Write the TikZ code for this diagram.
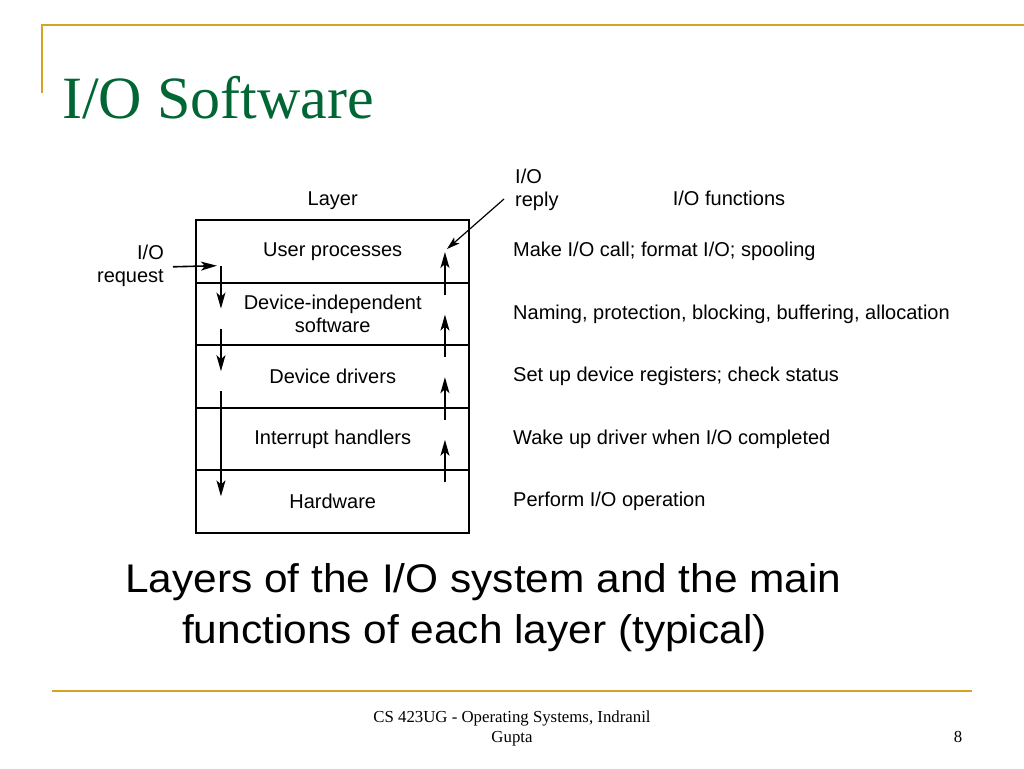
\documentclass[tikz,border=0pt]{standalone}
\usepackage{fontspec}
\setmainfont{Liberation Serif}
\setsansfont{Liberation Sans}
\newfontfamily\captionfont[FakeStretch=1.06]{Liberation Sans}
\usepackage{xcolor}
\usetikzlibrary{arrows.meta, calc}
\definecolor{slidegold}{RGB}{214,163,38}
\definecolor{titlegreen}{RGB}{0,102,51}

\begin{document}
\begin{tikzpicture}[
    x=1pt, y=-1pt,
    % Styles
    layerbox/.style={rectangle, draw=black, line width=2pt, minimum width=272.5pt, minimum height=62.6pt, inner sep=0pt, align=center, font=\sffamily\fontsize{20}{23}\selectfont},
    plaintext/.style={inner sep=0pt, font=\sffamily\fontsize{20}{23}\selectfont},
    functext/.style={anchor=west, inner sep=0pt, font=\sffamily\fontsize{20}{23}\selectfont},
    captiontext/.style={anchor=base west, inner sep=0pt, font=\captionfont\fontsize{40}{48}\selectfont},
    footertext/.style={anchor=base, inner sep=0pt, font=\fontsize{16.8}{20}\selectfont},
    arrow/.style={-{Stealth[length=16pt, width=9pt, inset=4pt]}, line width=1.6pt, color=black},
    goldline/.style={draw=slidegold, line width=2.5pt}
]
\useasboundingbox (0,0) rectangle (1024,768);

% Slide frame
\draw[goldline] (42,93) -- (42,25) -- (1024,25);
\draw[goldline] (52,691) -- (972,691);

% Title
\node[anchor=base west, inner sep=0pt, text=titlegreen, font=\fontsize{60}{72}\selectfont] (title) at (62,118) {I/O Software};

% Column headings
\node[plaintext, anchor=base] (layerhead) at (332.7,205) {Layer};
\node[plaintext, anchor=base] (funchead) at (729,205) {I/O functions};
\node[plaintext, anchor=west, align=left] (reply) at (515,189.5) {I/O\\reply};
\node[plaintext, anchor=east, align=right] (request) at (164,265.8) {I/O\\request};

% Layers
\node[layerbox] (user) at (332.7,251.3) {User processes};
\node[layerbox] (devind) at (332.7,313.9) {Device-independent\\software};
\node[layerbox] (drivers) at (332.7,376.5) {Device drivers};
\node[layerbox] (interrupt) at (332.7,439.1) {Interrupt handlers};
\node[layerbox] (hardware) at (332.7,501.7) {Hardware};

% Functions of each layer
\node[functext] (funcuser) at (513,251.3) {Make I/O call; format I/O; spooling};
\node[functext] (funcdevind) at (513,313.9) {Naming, protection, blocking, buffering, allocation};
\node[functext] (funcdrivers) at (513,376.5) {Set up device registers; check status};
\node[functext] (funcinterrupt) at (513,439.1) {Wake up driver when I/O completed};
\node[functext] (funchardware) at (513,501.7) {Perform I/O operation};

% Request going down
\draw[arrow] ($(request.east)+(9,1)$) -- ($(user.north west)+(21.5,46.7)$);
\draw[arrow] ($(user.north west)+(25.5,47)$) -- ($(devind.north west)+(25.5,27)$);
\draw[arrow] ($(devind.north west)+(25.5,47)$) -- ($(drivers.north west)+(25.5,27)$);
\draw[arrow] ($(drivers.north west)+(25.5,47)$) -- ($(hardware.north west)+(25.5,27)$);

% Reply going up
\draw[arrow] ($(devind.north east)+(-25,13)$) -- ($(user.north east)+(-25,33)$);
\draw[arrow] ($(drivers.north east)+(-25,13)$) -- ($(devind.north east)+(-25,33)$);
\draw[arrow] ($(interrupt.north east)+(-25,13)$) -- ($(drivers.north east)+(-25,33)$);
\draw[arrow] ($(hardware.north east)+(-25,13)$) -- ($(interrupt.north east)+(-25,33)$);
\coordinate (replytail) at (504,199);
\coordinate (replytip) at (447,249);
\draw[arrow, -{Stealth[length=13pt, width=8pt, inset=3pt]}, line width=1.2pt] (replytail) -- (replytip);

% Caption
\node[captiontext] (caption1) at (125,592) {Layers of the I/O system and the main};
\node[captiontext] (caption2) at (182,643) {functions of each layer (typical)};

% Footer
\node[footertext] (footer1) at (512,722) {CS 423UG - Operating Systems, Indranil};
\node[footertext] (footer2) at (512,742) {Gupta};
\node[footertext] (pagenum) at (958,742) {8};

\end{tikzpicture}
\end{document}
